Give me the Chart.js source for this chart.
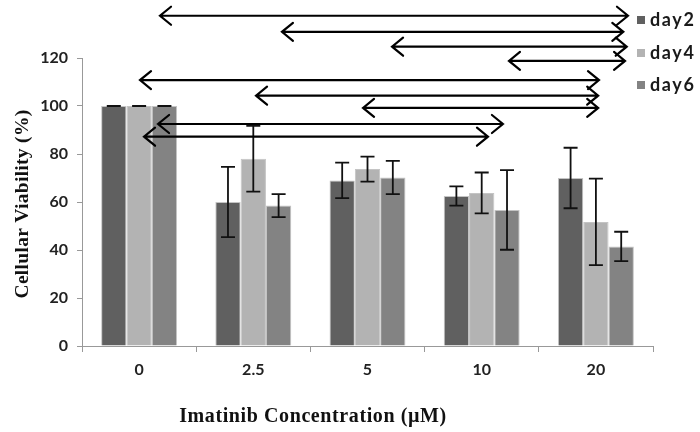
<!DOCTYPE html>
<html>
<head>
<meta charset="utf-8">
<script src="https://cdn.jsdelivr.net/npm/chart.js@4/dist/chart.umd.min.js"></script>
<style>
  html, body { margin: 0; padding: 0; background: #ffffff; }
  #wrap { width: 700px; height: 432px; position: relative; }
</style>
</head>
<body>
<div id="wrap"><canvas id="c" width="700" height="432"></canvas></div>
<script>
// ---- data ----
const categories = ['0', '2.5', '5', '10', '20'];
const seriesNames = ['day2', 'day4', 'day6'];
const day2 = [100, 60, 69, 62.5, 70];
const day4 = [100, 78, 73.7, 63.8, 51.7];
const day6 = [100, 58.5, 70.2, 56.7, 41.5];
const day2Err = [0, 14.6, 7.4, 4, 12.6];
const day4Err = [0, 13.7, 5.2, 8.5, 18];
const day6Err = [0, 4.8, 6.9, 16.6, 6.1];
const yTicks = [0, 20, 40, 60, 80, 100, 120];
// comparison arrows: level (in %), start and end (category index units)
const arrowLevel = [137.6, 130.9, 124.7, 118.8, 110.8, 104.3, 99.2, 92.5, 87.2];
const arrowFrom  = [0.183, 1.251, 2.215, 3.239, 0.008, 1.024, 1.961, 0.166, 0.043];
const arrowTo    = [4.281, 4.24, 4.27, 4.255, 4.027, 4.02, 4.02, 3.186, 3.055];

const colors = ['#606060', '#b3b3b3', '#838383'];
const values = [day2, day4, day6];
const errors = [day2Err, day4Err, day6Err];

const errorBarPlugin = {
  id: 'errorBars',
  afterDatasetsDraw(chart) {
    const ctx = chart.ctx;
    const ys = chart.scales.y;
    ctx.save();
    ctx.strokeStyle = '#111';
    ctx.lineWidth = 1.8;
    chart.data.datasets.forEach((ds, i) => {
      const meta = chart.getDatasetMeta(i);
      meta.data.forEach((bar, j) => {
        const v = ds.data[j], e = errors[i][j];
        const yt = ys.getPixelForValue(v + e);
        const yb = ys.getPixelForValue(v - e);
        const x = bar.x, cap = 7;
        ctx.beginPath();
        ctx.moveTo(x, yt); ctx.lineTo(x, yb);
        ctx.moveTo(x - cap, yt); ctx.lineTo(x + cap, yt);
        ctx.moveTo(x - cap, yb); ctx.lineTo(x + cap, yb);
        ctx.stroke();
      });
    });
    ctx.restore();
  }
};

const arrowPlugin = {
  id: 'arrows',
  afterDatasetsDraw(chart) {
    const ctx = chart.ctx;
    const xs = chart.scales.x, ys = chart.scales.y;
    ctx.save();
    ctx.strokeStyle = '#000';
    ctx.lineWidth = 2.2;
    ctx.lineCap = 'round';
    ctx.lineJoin = 'miter';
    const dx = 11, dy = 9;
    arrowLevel.forEach((lv, k) => {
      const y = ys.getPixelForValue(lv);
      const x1 = xs.getPixelForValue(arrowFrom[k]);
      const x2 = xs.getPixelForValue(arrowTo[k]);
      ctx.beginPath();
      ctx.moveTo(x1, y); ctx.lineTo(x2, y);
      ctx.moveTo(x1 + dx, y - dy); ctx.lineTo(x1, y); ctx.lineTo(x1 + dx, y + dy);
      ctx.moveTo(x2 - dx, y - dy); ctx.lineTo(x2, y); ctx.lineTo(x2 - dx, y + dy);
      ctx.stroke();
    });
    ctx.restore();
  }
};

const textPlugin = {
  id: 'texts',
  afterDraw(chart) {
    const ctx = chart.ctx;
    const a = chart.chartArea;
    ctx.save();
    // legend
    chart.data.datasets.forEach((ds, i) => {
      const cy = [20, 53, 85][i];
      ctx.fillStyle = ds.backgroundColor;
      ctx.fillRect(637, cy - 4, 8, 8);
      ctx.fillStyle = '#1a1a1a';
      ctx.font = 'bold 18px Lato';
      ctx.letterSpacing = '1.6px';
      ctx.textAlign = 'left';
      ctx.textBaseline = 'middle';
      ctx.fillText(ds.label, 650, cy);
    });
    ctx.letterSpacing = '0px';
    // axis titles
    ctx.fillStyle = '#111';
    ctx.font = 'bold 20px "Liberation Serif"';
    ctx.letterSpacing = '0.6px';
    ctx.textAlign = 'center';
    ctx.textBaseline = 'middle';
    ctx.fillText('Imatinib Concentration (\u00b5M)', 313, 417);
    ctx.letterSpacing = '0.3px';
    ctx.font = 'bold 19.5px "Liberation Serif"';
    ctx.translate(23, (a.top + a.bottom) / 2 + 2);
    ctx.rotate(-Math.PI / 2);
    ctx.fillText('Cellular Viability (%)', 0, 0);
    ctx.restore();
  }
};

new Chart(document.getElementById('c'), {
  type: 'bar',
  data: {
    labels: categories,
    datasets: seriesNames.map((n, i) => ({
      label: n,
      data: values[i],
      backgroundColor: colors[i],
      borderColor: '#c4c4c4',
      borderWidth: 1,
      categoryPercentage: 0.665,
      barPercentage: 1.0
    }))
  },
  options: {
    responsive: false,
    animation: false,
    devicePixelRatio: 1,
    layout: { padding: { top: 58, right: 47, left: 0, bottom: 0 } },
    plugins: { legend: { display: false }, tooltip: { enabled: false } },
    scales: {
      x: {
        afterFit(s) { s.height = 86; },
        grid: { display: true, drawOnChartArea: false, drawTicks: true, tickLength: 6, color: '#999', offset: true },
        border: { display: true, color: '#999', width: 1 },
        ticks: { font: { family: 'Lato', weight: 'bold', size: 16 }, color: '#222', padding: 8, maxRotation: 0 }
      },
      y: {
        min: 0, max: 120,
        afterFit(s) { s.width = 82; },
        afterBuildTicks(s) { s.ticks = yTicks.map(v => ({ value: v })); },
        grid: { display: true, drawOnChartArea: false, drawTicks: true, tickLength: 5, color: '#999' },
        border: { display: true, color: '#999', width: 1 },
        ticks: { font: { family: 'Lato', weight: 'bold', size: 16 }, color: '#222', padding: 9 }
      }
    }
  },
  plugins: [errorBarPlugin, arrowPlugin, textPlugin]
});
</script>
</body>
</html>
